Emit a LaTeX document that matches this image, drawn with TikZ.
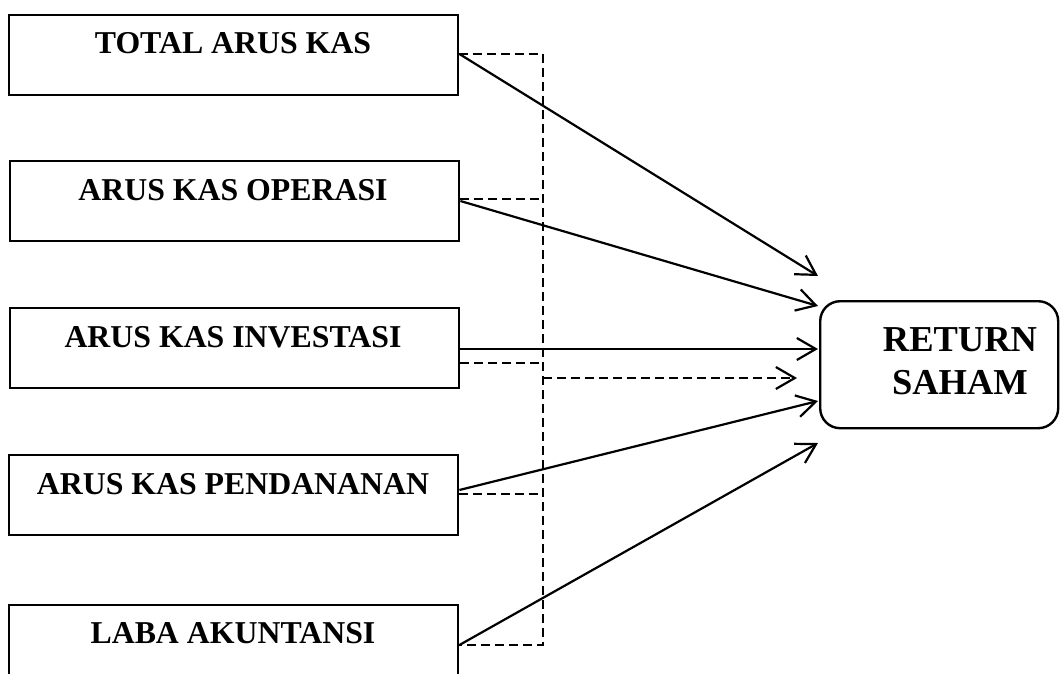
\documentclass[tikz,border=0pt]{standalone}
\usepackage{fontspec}
\setmainfont{Liberation Serif}
\usetikzlibrary{arrows.meta,calc}
\begin{document}
\begin{tikzpicture}[x=1pt,y=-1pt,
  box/.style={draw, line width=2.4pt, minimum width=449pt, minimum height=80pt, inner sep=0pt, anchor=north west},
  lbl/.style={font=\fontsize{31.8}{36}\selectfont\bfseries, anchor=base, inner sep=0pt},
  rlbl/.style={font=\fontsize{36.5}{43}\selectfont\bfseries, anchor=base, inner sep=0pt},
  link/.style={line width=2.2pt, -{Straight Barb[length=19pt,width=22pt,line width=2.2pt]}},
  dsh/.style={line width=2.2pt, dash pattern=on 9pt off 5pt},
  dlink/.style={dsh, -{Straight Barb[length=19pt,width=22pt,line width=2.2pt,sep=0pt]}},
]
\useasboundingbox (0,0) rectangle (1060,673);
% boxes
\node[box] (b1) at (8,14) {};
\node[box] (b2) at (9,160) {};
\node[box] (b3) at (9,307) {};
\node[box] (b4) at (8,454) {};
\node[box] (b5) at (8,604) {};
\node[lbl] (t1) at (233,53) {TOTAL ARUS KAS};
\node[lbl] (t2) at (233,200) {ARUS KAS OPERASI};
\node[lbl] (t3) at (233,347) {ARUS KAS INVESTASI};
\node[lbl] (t4) at (233,494) {ARUS KAS PENDANANAN};
\node[lbl] (t5) at (233,643) {LABA AKUNTANSI};
% target
\node[draw, line width=2.4pt, rounded corners=20pt, minimum width=238pt, minimum height=127pt, inner sep=0pt, anchor=north west] (R) at (819,300) {};
\node[rlbl] (r1) at (960,351) {RETURN};
\node[rlbl] (r2) at (960,394) {SAHAM};
% start points
\coordinate (s1) at ($(b1.north east)+(0,40)$);
\coordinate (s2) at ($(b2.north east)+(0,41)$);
\coordinate (s3) at ($(b3.north east)+(0,42)$);
\coordinate (s4) at ($(b4.north east)+(0,36)$);
\coordinate (s5) at ($(b5.north east)+(0,41)$);
\coordinate (d2) at ($(b2.north east)+(0,39)$);
\coordinate (d3) at ($(b3.north east)+(0,56)$);
\coordinate (d4) at ($(b4.north east)+(0,40)$);
\coordinate (bt) at (543,54);
\coordinate (bb) at (543,645);
\coordinate (dt) at ($(R.north west)+(-22,78)$);
% solid connectors
\draw[link] (s1) -- ($(R.north west)+(-1,-24)$);
\draw[link] (s2) -- ($(R.north west)+(-1,6)$);
\draw[link] (s3) -- ($(R.north west)+(-1,49)$);
\draw[link] (s4) -- ($(R.north west)+(-1,101)$);
\draw[link] (s5) -- ($(R.north west)+(-1,143)$);
% dashed connectors
\draw[dsh] (s1) -- (bt) -- (bb) -- (s5);
\draw[dsh] (d2) -- (bt |- d2);
\draw[dsh] (d3) -- (bt |- d3);
\draw[dsh] (d4) -- (bt |- d4);
\draw[dlink] (bt |- dt) -- (dt);
\end{tikzpicture}
\end{document}
